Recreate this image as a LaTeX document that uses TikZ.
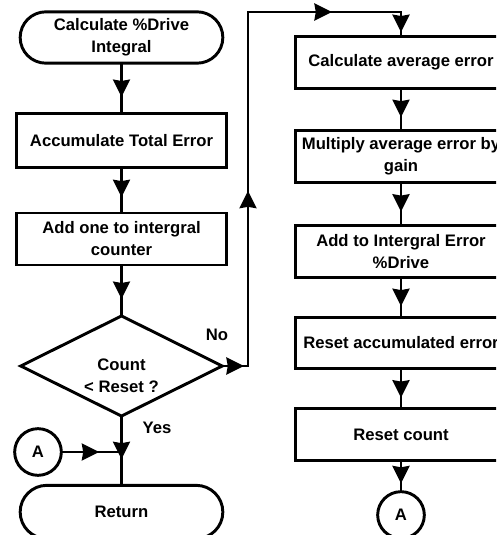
\documentclass[tikz,border=0pt]{standalone}
\usepackage{fontspec}
\setmainfont{Liberation Sans}
\usetikzlibrary{shapes.geometric,shapes.misc,decorations.markings}

\tikzset{
  flowtip/.style={postaction={decorate},
    decoration={markings, mark=at position #1 with {\fill (6.6pt,0) -- (-6.6pt,6.6pt) -- (-5.4pt,0) -- (-6.6pt,-6.6pt) -- cycle;}}},
  flowtip/.default=0.5
}

\begin{document}
\begin{tikzpicture}[
  x=0.75pt, y=-0.75pt,
  line width=2.2pt, line cap=rect,
  every node/.style={font=\fontsize{12.5}{16.5}\selectfont\bfseries, align=center, inner sep=1pt},
  procbox/.style={rectangle, draw, minimum width=158pt, minimum height=38.5pt},
  termbox/.style={rounded rectangle, draw, minimum width=154pt, minimum height=38.5pt},
  decision/.style={diamond, draw, minimum width=152pt, minimum height=76pt},
  connector/.style={circle, draw, minimum size=35pt}
]
\useasboundingbox (0,0) rectangle (496,535);
\clip (0,0) rectangle (496,535);

% left column
\node[termbox] (start) at (121.5,37.5) {Calculate \%Drive\\Integral};
\node[procbox, minimum height=41pt] (accum) at (121.5,140.5) {Accumulate Total Error};
\node[procbox, minimum height=39pt] (addone) at (121.5,239) {Add one to intergral\\counter};
\node[decision] (count) at (121.5,366) {};
\node (counttxt) at (121.5,376) {Count\\< Reset ?};
\node[termbox, minimum height=40pt] (ret) at (121.5,512) {Return};
\node[connector] (aleft) at (38,452) {A};
\node (nolbl) at (217,335) {No};
\node (yeslbl) at (157,428) {Yes};

% right column
\node[procbox] (avg) at (401,62.5) {Calculate average error};
\node[procbox] (gain) at (401,156.5) {Multiply average error by\\gain};
\node[procbox] (integ) at (401,251.5) {Add to Intergral Error\\\%Drive};
\node[procbox] (resacc) at (401,343) {Reset accumulated error};
\node[procbox] (rescnt) at (401,434.5) {Reset count};
\node[connector] (aright) at (401,515) {A};

\coordinate (nobend) at (248,366);
\coordinate (topleft) at (248,12);
\coordinate (topright) at (401,12);
\coordinate (join) at (count.south |- aleft);

\draw[flowtip] (start) -- (accum);
\draw[flowtip=0.45] (accum) -- (addone);
\draw[flowtip] (addone) -- (count);
\draw[flowtip=0.49] (count.south) -- (ret.north);
\draw[flowtip=0.47] (aleft) -- (join);

% "No" branch round to the right column
\draw[flowtip=0.45] (count.east) -- (nobend);
\draw[flowtip=0.47] (nobend) -- (topleft);
\draw[flowtip=0.49] (topleft) -- (topright);
\draw[flowtip=0.48] (topright) -- (avg.north);

\draw[flowtip=0.47] (avg) -- (gain);
\draw[flowtip=0.47] (gain) -- (integ);
\draw[flowtip] (integ) -- (resacc);
\draw[flowtip] (resacc) -- (rescnt);
\draw[flowtip=0.45] (rescnt) -- (aright);
\end{tikzpicture}
\end{document}
